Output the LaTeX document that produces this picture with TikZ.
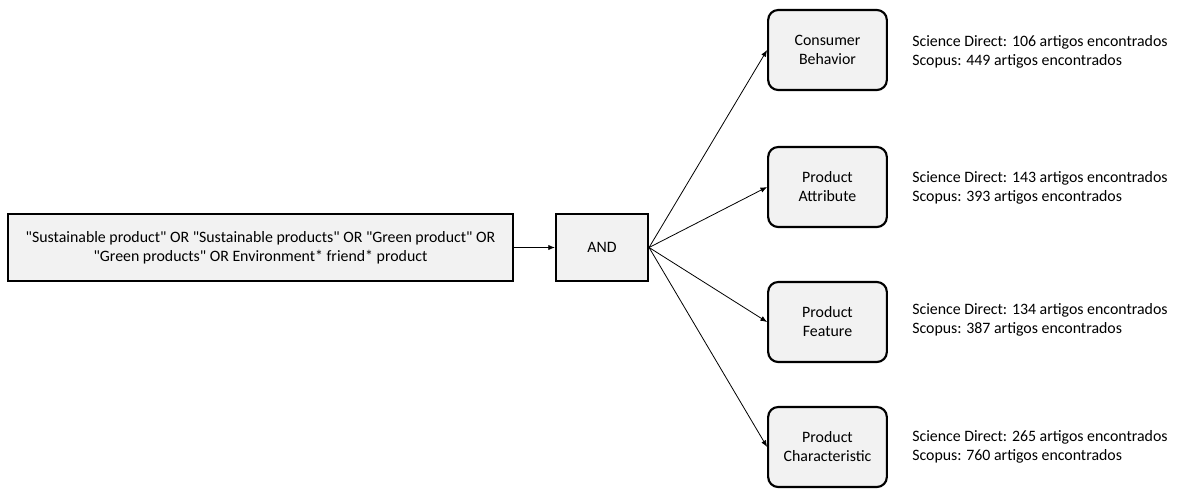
\documentclass[tikz,border=0pt]{standalone}
\usepackage{fontspec}
\setmainfont{Carlito}[Ligatures=TeXOff]
\usetikzlibrary{arrows.meta}
\tikzset{
  querybox/.style={draw, line width=1.6pt, fill=black!5, align=center,
    inner sep=0pt},
  termbox/.style={querybox, rounded corners=7.5pt,
    minimum width=89pt, minimum height=60pt},
  countnote/.style={anchor=west, align=left, inner sep=0pt},
  link/.style={-{Latex[length=5pt,width=4pt]}, line width=0.6pt}
}
\begin{document}
\begin{tikzpicture}[x=0.75pt, y=-0.75pt, font=\fontsize{11.9}{14.3}\selectfont]
\useasboundingbox (0,0) rectangle (1181,489);
% search string and the AND box
\node[querybox, minimum width=379pt, minimum height=50pt] (query) at (260.5,247.5)
  {"Sustainable product" OR "Sustainable products" OR "Green product" OR\\
   "Green products" OR Environment* friend* product};
\node[querybox, minimum width=69pt, minimum height=50pt] (and) at (602,247.5) {AND};
\draw[link] (query) -- (and);

% the four terms
\node[termbox] (behavior) at (827.5,50) {Consumer\\Behavior};
\node[termbox] (attribute) at (827.5,187) {Product\\Attribute};
\node[termbox] (feature) at (827.5,322) {Product\\Feature};
\node[termbox] (characteristic) at (827.5,447) {Product\\Characteristic};

\draw[link] (and.east) -- (behavior.west);
\draw[link] (and.east) -- (attribute.west);
\draw[link] (and.east) -- (feature.west);
\draw[link] (and.east) -- (characteristic.west);

% results
\node[countnote] (behaviorcount) at (912,52)
  {Science Direct: 106 artigos encontrados\\Scopus: 449 artigos encontrados};
\node[countnote] (attributecount) at (912,188)
  {Science Direct: 143 artigos encontrados\\Scopus: 393 artigos encontrados};
\node[countnote] (featurecount) at (912,320)
  {Science Direct: 134 artigos encontrados\\Scopus: 387 artigos encontrados};
\node[countnote] (characteristiccount) at (912,447)
  {Science Direct: 265 artigos encontrados\\Scopus: 760 artigos encontrados};
\end{tikzpicture}
\end{document}
